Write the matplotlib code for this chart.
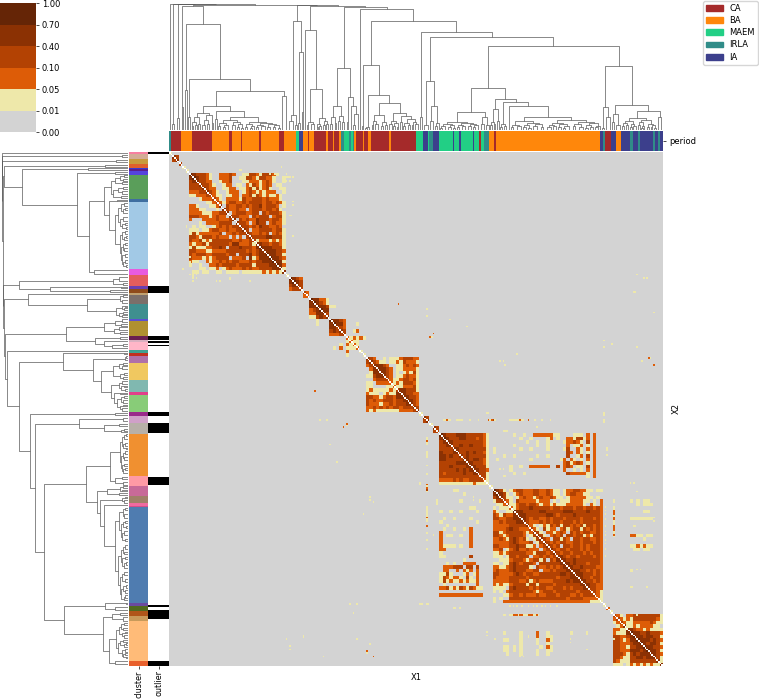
import numpy as np
import matplotlib
matplotlib.use('Agg')
import matplotlib.pyplot as plt
from matplotlib.collections import LineCollection
from matplotlib.colors import ListedColormap, BoundaryNorm
from matplotlib.colorbar import ColorbarBase
from matplotlib.patches import Patch

W, H = 759, 699
N = 296  # number of samples


def fit(total, tree):
    # rescale the leaf widths of a subtree so it covers `total` samples
    def size(t):
        return t if not isinstance(t, tuple) else size(t[1]) + size(t[2])
    k = total / size(tree)
    def scale(t):
        return t * k if not isinstance(t, tuple) else (t[0], scale(t[1]), scale(t[2]))
    return scale(tree)


# colour scale
bounds = [0.00, 0.01, 0.05, 0.10, 0.40, 0.70, 1.00]
heat_colors = ['#d3d3d3', '#eee8aa', '#dd5c07', '#b34203', '#8b3103', '#652506']
level_values = [0.005, 0.03, 0.07, 0.25, 0.55, 0.85]

# period strip, run lengths
period_names = ['CA', 'BA', 'MAEM', 'IRLA', 'IA']
period_colors = ['#a52a2a', '#ff870b', '#22cf85', '#308c88', '#3c3f8c']
period_runs = [3, 1, 0, 6, 1, 7, 0, 12, 1, 10, 0, 2, 1, 5, 0, 1, 1, 10, 0, 1, 1, 11, 0, 3, 1, 7,
               2, 2, 4, 2, 1, 3, 0, 1, 1, 3, 0, 7, 1, 1, 0, 3, 1, 1, 0, 3, 1, 1, 3, 2, 2, 3, 3, 1,
               2, 1, 3, 1, 1, 1, 0, 4, 1, 1, 0, 2, 1, 2, 0, 11, 1, 1, 0, 15, 2, 4, 4, 3, 2, 1,
               3, 2, 4, 4, 2, 8, 4, 1, 2, 3, 4, 1, 2, 7, 4, 1, 2, 3, 0, 1, 2, 2, 3, 3, 1, 3,
               0, 1, 1, 62, 4, 2, 3, 1, 0, 4, 4, 3, 1, 3, 4, 5, 3, 2, 4, 3, 3, 1, 4, 8, 3, 1,
               4, 2, 3, 1, 4, 2]

# cluster strip, run lengths and colours
cluster_widths = [1, 3, 3, 2, 1, 1, 2, 14, 2, 38, 4, 6, 1.5, 2.5, 1, 5.5, 8.5, 1, 9, 2, 1, 5,
                  1.5, 2, 4, 9.5, 7, 1.5, 10, 2, 4.5, 6, 24, 6, 6, 4, 1.5, .5, 55, 2, 3, 2.5, 3, 23, 3]
cluster_colors = ['#f77fa0', '#d4ac97', '#c89b3c', '#e0602c', '#3a3ad0', '#5a1f8f', '#5544dd',
                  '#5a9e5a', '#3f6ea0', '#a2c9e6', '#e85be0', '#e35d5d', '#6a3fb0', '#8f4a1a',
                  '#c0a070', '#7c6f6a', '#3f8f8f', '#5a50d0', '#b09030', '#6a1f50', '#d9b0c0',
                  '#ffb6c8', '#40a090', '#c03020', '#b070a8', '#f0c860', '#80b8b0', '#e0408a',
                  '#88cc78', '#9a2a8a', '#d0a0c8', '#b8b0a8', '#f09030', '#ff9aa5', '#c86a98',
                  '#a08068', '#f06aa0', '#d0508a', '#4f7cb0', '#6a4aa0', '#506a20', '#b0561a',
                  '#c89a5a', '#ffbb78', '#e8602c']

# outlier flags as (first, last) sample
outlier_runs = [(0, 1), (77, 81), (106, 108), (109, 110), (111, 112), (150, 152), (156, 162),
                (187, 192), (261, 262), (264, 269), (293, 296)]

# dendrogram subtrees: (height in px, left, right), a plain number is a leaf width
green = (17, (13, (8, (4, 1, 1), (5, 1, 1)), (6, 1, 1)), (15, (10, (5, 2, 1), (6, 1, 2)), (7, 1, 1)))
lb_left = (10, (7, (4, 1, 1), (5, (3, 1, 1), 2)), (8, (5, 2, 1), (6, (3, 1, 1), (2, 1, 1))))
lb_right = (8, (6, (3, 1, 1), (4, (2, 1, 1), 1)),
            (7, (5, (3, 1, 1), (4, 2, 1)), (6, (3, 1, 2), (5, (3, 1, 1), (2, 1, 1)))))
block_a = (124, (23, 1, 1), (106, (40, 1, 1), (51, (13, 1, 1), (39, (24, green, (19, (11, 1, 1),
           (13, fit(16, lb_left), fit(22, lb_right)))), (34, 2, 2)))))
coral_brown = (109, (15, (9, 2, 2), (5, 1, 1)), (78, (7, 1, 1), (18, 1, 1)))
n100 = (100, 1, (41, (8, (5, 1, 1), (6, 2, 2)),
                 fit(8, (12, (6, (3, 1, 1), (4, 1, 1)), (9, (5, 2, 1), (6, 1, 2))))))
n62 = (62, fit(10, (24, (13, (6, 1, 2), (7, 1, 1)), (14, (9, 1, 2), (8, 1, 2)))),
       (33, (8, 1, 1), (24, 2, (16, (5, 1, 1), 2))))
yellow = (15, (9, (5, 1, 1), (6, 1, 2)), (8, (4, 2, 1), (5, 1, 1)))
other = (17, (9, (6, 2, 1), (7, (4, 1, 1), (3, 1, 1))),
         (14, (8, 1, 1), (11, (7, (4, 1, 1), (5, 2, 1)), (8, (5, 1, 1), (6, 1, 2)))))
block_g = (65, (4, 1, 1), (35, (3, (2, 1, 1), 2), (27, yellow, other)))
orange = (8, (6, (4, (2, 1, 1), 2), (5, (3, 2, 1), (2, 1, 1))),
          (7, (5, (3, 1, 2), (4, 1, 2)), (6, (4, 2, 1), (5, (3, 1, 1), 2))))
pink = (13, (6, 2, 1), (5, 2, 1))
rose = (21, (8, (5, 1, 1), (6, 1, 1)), (9, 1, 1))
taupe = (6, (3, 1, 1), (4, 1, 2))
d_left = (9, (5, (3, 1, 1), (4, 2, 1)), (7, (5, (3, 1, 1), (2, 1, 1)), (6, (4, 1, 2), (3, 1, 1))))
d_right = (10, (7, (5, (3, 2, 1), (4, 1, 1)), (6, (3, 1, 1), (4, (2, 1, 1), 2))),
           (8, (6, (4, 1, 1), (3, 2, 1)), (7, (5, (2, 1, 1), (3, 1, 1)), (4, (3, 1, 1), 1))))
block_d = (13, fit(21, d_left), fit(34, d_right))
light_orange = (12, (9, (7, (4, 1, 1), (5, 2, 1)), (6, (3, 1, 1), (4, 1, 2))),
                (10, (8, (5, 1, 1), (4, (2, 1, 1), 1)), (6, (3, 2, 1), (5, (3, 1, 1), (2, 1, 1)))))
rest = (98, (13, 1, 1), (93, (49, (5, 2, 2), (24, (9, 1, 2), (7, (4, 1, 1), 1))),
        (84, (42, (18, fit(24, orange), fit(6, pink)),
              (31, fit(6, rose), (28, fit(5, taupe), (24, 1, block_d)))),
         (64, (23, (2, 1, 1), (13, 2, 2)),
          (25, (16, (8, 1, 1), (5, 2, 2)), (19, fit(21, light_orange), (13, 2, 2)))))))
n5 = (121.3, 1, (109, block_g, rest))
tree = (126, 1, (125.9, (6, 1, 2), (125.7, (12, 1, 2),
        (125.5, block_a, (125.3, coral_brown, (124, n100, (122.7, n62, n5)))))))

# heatmap blocks, level digits: (first tile, rows from the diagonal on); a tile is 2 samples
block_rows = {
    1: ["43", "4"],
    3: ["3"],
    6: ["54333210022232001133213332100", "5433210022230011332133221001",
        "433220012230001122212321001", "43321001220110213212320110",
        "4322001122011231312310011", "432100122201232121222001",
        "32110112202231321211210", "3210222213223332322210",
        "321233223233332332321", "40322332323342333201",
        "4322322023332332310", "402333223303233321",
        "43322203233302331", "4032322433323321",
        "433202433023221", "43323243322320",
        "4302233332331", "432232302321",
        "43333443331", "3122212121",
        "443323321", "54443331", "4444332", "544331", "54432", "5441", "542", "41", "4"],
    36: ["5432", "543", "43", "3"],
    40: ["32", "2"],
    42: ["5443", "543", "43"],
    44: ["5443", "544", "43", "4"],
    48: ["54432", "5442", "332", "43", "3"],
    53: ["2121", "211", "21", "2"],
    59: ["4320010111233322", "432110112132221", "44432001123232", "4443201122221",
         "443201012131", "43201123221", "3211233231", "212133321", "21122231",
         "3443331", "443322", "44332", "4432", "432", "43", "4"],
    76: ["43", "4"],
    79: ["43", "3"],
    81: ["543334443333321", "54333443332321", "4433333333321", "433433433321",
         "44333333331", "4334343321", "434333331", "44344321", "4433321",
         "443331", "44332", "4331", "331", "21", "1"],
    97: ["543101233222332232110122332211011", "54310123222332232110123322110",
         "431101232212322321101222221101"],
    100: ["321032222212220101112222110102", "31123323321221211122222102102",
          "2123334333332332333233233232"],
    103: ["544333334433333444333343332", "44433333344323333433333332",
          "4432332232333233332333232", "432223232332333232333332"],
    107: ["42101213231332323133232", "3210312202312331323232", "431022123203232332232",
          "43102323033233121332", "4320331320332332232", "432323322332333232",
          "43230332332323332", "4323323332323332", "432332333232332", "44323323333232",
          "4433433333332", "443433323332", "44334333322", "4443323232", "444333232",
          "44332332", "4433232", "443322", "43322", "3321", "321", "21", "1"],
    130: ["1", "2"],
    133: ["321022333333331", "32121333333321", "3211222223211", "411212222110", "44322121111",
          "5443343332", "544344331", "54443432", "5434431", "544332", "54431", "4432", "431", "41", "4"],
}

# off-diagonal patches at tile resolution: (row, first column, levels)
patch_rows = [
    (42, 45, "221"), (43, 45, "321"), (44, 48, "11"),
    (49, 56, "1"), (51, 55, "12"), (53, 57, "21"),
    (81, 103, "1001002222221100001110202"),
    (82, 103, "0010010000120100221331202"),
    (83, 103, "0000100100100001223210302"),
    (84, 103, "1000000100100000201120102"),
    (85, 103, "0010010000100001300210202"),
    (86, 103, "0000000000000000320210102"),
    (87, 103, "1000000100100000300120302"),
    (88, 103, "0000010000000012021010202"),
    (89, 103, "0000000000000002312320102"),
    (90, 103, "0010022222200302320110302"),
    (91, 103, "0000000000000002001010202"),
    (92, 103, "1001000000000000322222102"),
    (93, 103, "0000000000000000000000102"),
    (97, 85, "11"), (98, 88, "1"), (100, 87, "1"), (102, 90, "11"),
    (100, 138, "1010110"), (101, 138, "0010111"), (103, 142, "11"),
    (105, 138, "1111111"), (110, 138, "2211011"), (111, 142, "1"),
    (113, 138, "1121211"), (114, 139, "11011"), (120, 138, "1"),
]

# sparse single samples: (row, first column, levels) at sample resolution
dot_rows = [
    (154, 164, "112110001111000010000100000212310000000011111121100200010001000010"),
    (154, 90, "1000100"),
    (87, 137, "2"),
    (70, 280, "1"), (72, 284, "101"), (80, 278, "11"),
    (110, 265, "1"), (112, 280, "1"), (92, 290, "1"),
    (118, 287, "21"), (120, 283, "1"), (122, 290, "2"),
    (120, 198, "101"), (122, 201, "1"), (116, 208, "1"), (108, 260, "1"), (112, 260, "1"),
    (104, 158, "2"), (106, 156, "21"),
    (96, 168, "1"), (100, 178, "1"),
    (266, 200, "1100112221221112221121"), (266, 280, "1"),
    (261, 204, "101010010001001010010100100010"),
    (260, 150, "1100110"), (262, 170, "11001"),
    (290, 210, "101"), (286, 250, "1"),
    (190, 276, "1010"), (195, 280, "1"), (215, 278, "11"), (240, 280, "101"), (250, 276, "11"),
    (12, 60, "1001"), (8, 66, "01"), (14, 70, "110010"), (10, 42, "11"),
    (70, 12, "10101"), (72, 14, "101"), (68, 20, "1001"), (74, 30, "1"),
    (28, 74, "1"), (36, 72, "11"), (48, 74, "1"),
    (160, 200, "111"), (164, 210, "1"), (176, 196, "1"), (182, 198, "101"),
    (186, 200, "11"), (158, 220, "1"), (150, 190, "11"),
]

# build the matrix
tiles = np.zeros((N // 2, N // 2), dtype=int)
for i in range(N // 2):
    tiles[i, i] = 1
for start, rows in block_rows.items():
    for k, row in enumerate(rows):
        for c, ch in enumerate(row):
            r0, c0 = start + k, start + k + c
            if r0 < N // 2 and c0 < N // 2:
                tiles[r0, c0] = tiles[c0, r0] = int(ch)
for r0, c0, row in patch_rows:
    for c, ch in enumerate(row):
        if int(ch) > 0:
            tiles[r0, c0 + c] = tiles[c0 + c, r0] = int(ch)

levels = np.kron(tiles, np.ones((2, 2), dtype=int))
for r0, c0, row in dot_rows:
    for c, ch in enumerate(row):
        if int(ch) > 0 and c0 + c < N:
            levels[r0, c0 + c] = levels[c0 + c, r0] = int(ch)
matrix = np.array(level_values)[levels]
np.fill_diagonal(matrix, np.nan)


def add_axes(x0, y0, x1, y1):
    # axes box given in reference pixels
    return fig.add_axes([x0 / W, 1 - y1 / H, (x1 - x0) / W, (y1 - y0) / H])


def collect(node, start, segs):
    # returns position, height and the next free leaf position
    if not isinstance(node, tuple):
        return start + node / 2, 0, start + node
    xl, hl, nxt = collect(node[1], start, segs)
    xr, hr, nxt = collect(node[2], nxt, segs)
    segs.append([(xl, hl), (xl, node[0]), (xr, node[0]), (xr, hr)])
    return (xl + xr) / 2, node[0], nxt


fig = plt.figure(figsize=(W / 100, H / 100), dpi=100)

# heatmap
cmap = ListedColormap(heat_colors)
cmap.set_bad('white')
norm = BoundaryNorm(bounds, cmap.N)
ax_heat = add_axes(169, 152, 663, 666)
ax_heat.imshow(matrix, cmap=cmap, norm=norm, aspect='auto', interpolation='nearest')
ax_heat.set_xticks([])
ax_heat.set_yticks([])
for s in ax_heat.spines.values():
    s.set_visible(False)
ax_heat.set_xlabel('X1', fontsize=6, labelpad=5)
ax_heat.yaxis.set_label_position('right')
ax_heat.set_ylabel('X2', fontsize=6, labelpad=6.5)

# dendrograms
segs = []
collect(fit(N, tree), 0, segs)
ax_top = add_axes(169, 3, 663, 130)
ax_top.add_collection(LineCollection(segs, colors='0.35', linewidths=0.5))
ax_top.set_xlim(0, N)
ax_top.set_ylim(0, 127)
ax_top.axis('off')

ax_left = add_axes(1, 152, 128, 666)
ax_left.add_collection(LineCollection([[(h, x) for x, h in s] for s in segs], colors='0.35', linewidths=0.5))
ax_left.set_xlim(127, 0)
ax_left.set_ylim(N, 0)
ax_left.axis('off')

# period strip
period_codes = np.repeat(period_runs[0::2], period_runs[1::2])
ax_period = add_axes(169, 131, 663, 151)
ax_period.imshow(period_codes[None, :], cmap=ListedColormap(period_colors), vmin=0, vmax=4,
                 aspect='auto', interpolation='nearest')
ax_period.set_xticks([])
ax_period.yaxis.tick_right()
ax_period.set_yticks([0], ['period'])
ax_period.tick_params(axis='y', labelsize=6, length=2.2, width=0.5, pad=2)
for s in ax_period.spines.values():
    s.set_visible(False)

# cluster and outlier strips
edges = np.concatenate([[0], np.cumsum(cluster_widths)])
ax_side = add_axes(129, 152, 148.3, 666)
ax_side.pcolormesh([0, 1], edges * N / edges[-1], np.arange(len(cluster_colors))[:, None],
                   cmap=ListedColormap(cluster_colors), vmin=-0.5, vmax=len(cluster_colors) - 0.5)
ax_side.set_ylim(N, 0)
ax_side.set_yticks([])
ax_side.set_xticks([0.5], ['cluster'], rotation=90)

outlier = np.zeros(N)
for a, b in outlier_runs:
    outlier[a:b] = 1
ax_out = add_axes(148.3, 152, 168.7, 666)
ax_out.imshow(outlier[:, None], cmap=ListedColormap(['white', 'black']), vmin=0, vmax=1,
              aspect='auto', interpolation='nearest')
ax_out.set_yticks([])
ax_out.set_xticks([0], ['outlier'], rotation=90)
for a in (ax_side, ax_out):
    a.tick_params(axis='x', labelsize=5.8, length=2, width=0.5, pad=1)
    for s in a.spines.values():
        s.set_visible(False)

# colour bar
ax_bar = add_axes(0, 3.3, 36, 132.3)
cb = ColorbarBase(ax_bar, cmap=cmap, norm=norm, spacing='uniform', ticks=bounds, format='%.2f')
cb.outline.set_visible(False)
cb.ax.tick_params(labelsize=6, length=2.2, width=0.5, pad=2)

# legend
handles = [Patch(color=c, label=n) for c, n in zip(period_colors, period_names)]
fig.legend(handles=handles, loc='upper right', bbox_to_anchor=(758 / W, 1 - 1 / H), fontsize=6,
           borderaxespad=0, framealpha=0.8, labelspacing=0.38, borderpad=0.35)

fig.savefig('out.png', dpi=100)
